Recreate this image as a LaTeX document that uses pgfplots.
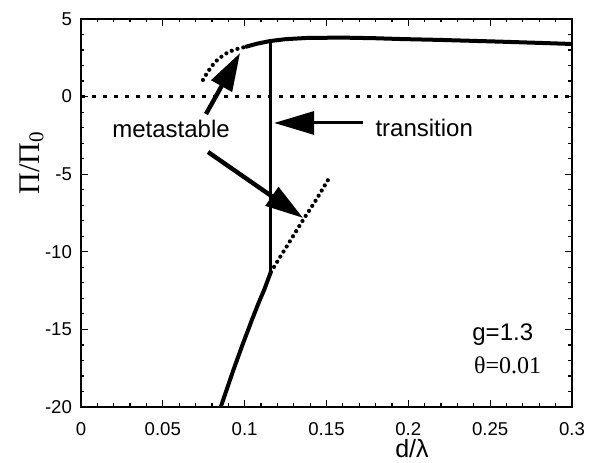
\documentclass[border=0pt]{standalone}
\usepackage{fontspec}
\setmainfont{Liberation Sans}
\newfontfamily\seriffont{Liberation Serif}
\usepackage{pgfplots}
\pgfplotsset{compat=1.18}
\usetikzlibrary{arrows.meta}

\begin{document}
\begin{tikzpicture}
\begin{axis}[
  name=ax,
  scale only axis, width=245.5pt, height=194pt,
  xmin=0, xmax=0.3, ymin=-20, ymax=5,
  xtick={0,0.05,0.1,0.15,0.2,0.25,0.3},
  xticklabels={0,0.05,0.1,0.15,0.2,0.25,0.3},
  ytick={-20,-15,-10,-5,0,5},
  yticklabels={-20,-15,-10,-5,0,5},
  minor x tick num=4, minor y tick num=4,
  tick align=inside,
  major tick length=3.5pt, minor tick length=1.75pt,
  axis line style={line width=1.2pt},
  every tick/.style={black, line width=0.6pt},
  tick label style={font=\fontsize{9.3}{10}\selectfont},
  xticklabel style={yshift=-4pt},
  yticklabel style={xshift=-1pt},
  xlabel={\fontsize{12.5}{14}\selectfont d/λ},
  every axis x label/.style={at={(axis description cs:0.674,-0.106)}, anchor=center},
  ylabel={\fontsize{15}{18}\selectfont\seriffont Π/Π\textsubscript{0}},
  every axis y label/.style={at={(axis description cs:-0.1008,0.629)}, anchor=center, rotate=90},
]
% zero line
\addplot[black, line width=1.3pt, dash pattern=on 2.2pt off 3.3pt] coordinates {(0,0) (0.3,0)};
% upper metastable (dotted)
\addplot[black, line width=2.1pt, line cap=round, dash pattern=on 0pt off 3pt] coordinates {
(0.0745,1.07) (0.0770,1.52) (0.0795,1.90) (0.0819,2.23) (0.0855,2.55) (0.0892,2.81) (0.0925,2.97) (0.0954,3.07) (0.1003,3.20)
};
% upper stable branch
\addplot[black, line width=2pt, line join=round] coordinates {
(0.1003,3.20) (0.1080,3.42) (0.1156,3.58) (0.125,3.70) (0.1382,3.78) (0.16,3.80) (0.18,3.76) (0.1950,3.71) (0.22,3.65) (0.2562,3.54) (0.28,3.46) (0.3,3.39)
};
% transition line
\addplot[black, line width=1.5pt] coordinates {(0.1156,3.58) (0.1156,-11.3)};
% lower stable branch
\addplot[black, line width=2pt, line join=round] coordinates {
(0.0854,-20) (0.0931,-17.62) (0.0990,-15.9) (0.1044,-14.4) (0.1085,-13.3) (0.1119,-12.46) (0.1160,-11.3)
};
% lower metastable (dotted)
\addplot[black, line width=2.1pt, line cap=round, dash pattern=on 0pt off 3pt] coordinates {
(0.1160,-11.3) (0.126,-9.6) (0.136,-7.9) (0.144,-6.6) (0.1516,-5.25)
};
% arrows
\draw[line width=2.2pt, -{Triangle[length=19pt,width=11.5pt]}] (axis cs:0.0764,-1.12) -- (axis cs:0.0972,2.81);
\draw[line width=2.2pt, -{Triangle[length=19pt,width=11pt]}] (axis cs:0.0776,-3.57) -- (axis cs:0.1357,-7.82);
\draw[line width=1.5pt, -{Triangle[length=20pt,width=11.5pt]}] (axis cs:0.1724,-1.70) -- (axis cs:0.1180,-1.70);
% labels
\node[anchor=base east, font=\fontsize{12}{14}\selectfont, inner sep=0pt] at (axis cs:0.0911,-2.62) {metastable};
\node[anchor=base west, font=\fontsize{12}{14}\selectfont, inner sep=0pt] at (axis cs:0.1797,-2.54) {transition};
\node[anchor=base west, font=\fontsize{12}{14}\selectfont, inner sep=0pt] at (axis cs:0.2389,-15.73) {g=1.3};
\node[anchor=base west, font=\fontsize{12}{14}\selectfont\seriffont, inner sep=0pt] at (axis cs:0.2399,-17.83) {θ=0.01};
\end{axis}
\pgfresetboundingbox
\path[use as bounding box] ([shift={(-40.5pt,-28pt)}]ax.south west) rectangle ([shift={(14.5pt,9.5pt)}]ax.north east);
\end{tikzpicture}
\end{document}
